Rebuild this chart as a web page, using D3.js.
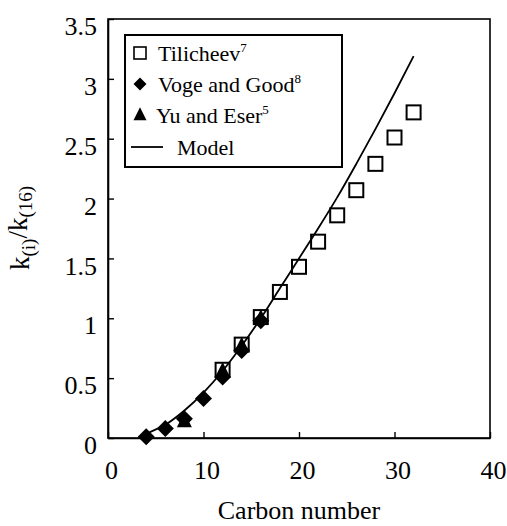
<!DOCTYPE html>
<html>
<head>
<meta charset="utf-8">
<script src="https://cdn.jsdelivr.net/npm/d3@7"></script>
<style>
  body { margin:0; background:#fff; }
  svg { display:block; }
</style>
</head>
<body>
<svg id="chart"></svg>
<script>
// values
const tilCarbon = [12, 14, 16, 18, 20, 22, 24, 26, 28, 30, 32];
const tilRatio  = [0.57, 0.78, 1.01, 1.22, 1.43, 1.64, 1.86, 2.07, 2.29, 2.51, 2.72];
const vogeCarbon = [4, 6, 8, 10, 12, 14, 16];
const vogeRatio  = [0.01, 0.08, 0.16, 0.33, 0.51, 0.73, 0.98];
const yuCarbon = [8, 12, 14, 16];
const yuRatio  = [0.14, 0.56, 0.77, 1.0];
const modelCarbon = [3.5, 4, 6, 8, 10, 12, 14, 16, 18, 20, 22, 24, 26, 28, 30, 32];
const modelRatio  = [0.0, 0.03, 0.11, 0.23, 0.38, 0.56, 0.77, 1.0, 1.25, 1.5, 1.75, 2.01, 2.29, 2.58, 2.88, 3.19];
const xTicks = [0, 10, 20, 30, 40];
const yTicks = [0, 0.5, 1, 1.5, 2, 2.5, 3, 3.5];
const legendNames = ["Tilicheev", "Voge and Good", "Yu and Eser", "Model"];
const legendSup = ["7", "8", "5", ""];

const serif = "'Liberation Serif', 'DejaVu Serif', 'Times New Roman', Times, serif";
const width = 507, height = 526;
const margin = {top:19, right:17, bottom:88, left:108};
const innerW = width - margin.left - margin.right;
const innerH = height - margin.top - margin.bottom;

const svg = d3.select("#chart").attr("width", width).attr("height", height)
  .style("font-family", serif);
const g = svg.append("g").attr("transform", `translate(${margin.left},${margin.top})`);

const x = d3.scaleLinear().domain([0, 40]).range([0, innerW]);
const y = d3.scaleLinear().domain([0, 3.5]).range([innerH, 0]);

// frame
g.append("rect").attr("width", innerW).attr("height", innerH)
  .attr("fill", "none").attr("stroke", "#000").attr("stroke-width", 1.6);

const fmt = d => String(d);
const xAxis = d3.axisBottom(x).tickValues(xTicks).tickFormat(fmt).tickSizeInner(-6).tickSizeOuter(0);
const yAxis = d3.axisLeft(y).tickValues(yTicks).tickFormat(fmt).tickSizeInner(-6).tickSizeOuter(0);

const xg = g.append("g").attr("transform", `translate(0,${innerH})`).call(xAxis);
xg.selectAll("text").style("font-family", serif).attr("font-size", 26).attr("fill", "#000")
  .attr("dy", null).attr("y", 41).attr("dx", 3);
xg.selectAll("line").attr("stroke", "#000").attr("stroke-width", 1.4);
xg.select(".domain").attr("stroke", "#000").attr("stroke-width", 1.6);

const yg = g.append("g").call(yAxis);
yg.selectAll("text").style("font-family", serif).attr("font-size", 26).attr("fill", "#000")
  .attr("x", -11).attr("dy", "0.6em");
yg.selectAll("line").attr("stroke", "#000").attr("stroke-width", 1.4);
yg.select(".domain").attr("stroke", "#000").attr("stroke-width", 1.6);

// markers
const sq = 14;
const diamond = r => `M0,${-r}L${r},0L0,${r}L${-r},0Z`;
const triangle = s => `M0,${-s*0.6}L${s/2},${s*0.4}L${-s/2},${s*0.4}Z`;

g.append("g").selectAll("rect")
  .data(tilCarbon.map((c, i) => [c, tilRatio[i]]))
  .join("rect")
  .attr("x", d => x(d[0]) - sq / 2).attr("y", d => y(d[1]) - sq / 2)
  .attr("width", sq).attr("height", sq)
  .attr("fill", "#fff").attr("stroke", "#000").attr("stroke-width", 2);

g.append("g").selectAll("path")
  .data(vogeCarbon.map((c, i) => [c, vogeRatio[i]]))
  .join("path")
  .attr("d", diamond(8.5))
  .attr("transform", d => `translate(${x(d[0])},${y(d[1])})`)
  .attr("fill", "#000");

g.append("g").selectAll("path")
  .data(yuCarbon.map((c, i) => [c, yuRatio[i]]))
  .join("path")
  .attr("d", triangle(15))
  .attr("transform", d => `translate(${x(d[0])},${y(d[1])})`)
  .attr("fill", "#000");

const line = d3.line().x(d => x(d[0])).y(d => y(d[1])).curve(d3.curveMonotoneX);
g.append("path")
  .datum(modelCarbon.map((c, i) => [c, modelRatio[i]]))
  .attr("d", line)
  .attr("fill", "none").attr("stroke", "#000").attr("stroke-width", 1.8);

// legend
const leg = svg.append("g");
leg.append("rect").attr("x", 125).attr("y", 35).attr("width", 217).attr("height", 132)
  .attr("fill", "#fff").attr("stroke", "#000").attr("stroke-width", 2);
const rowY = [53, 84, 115, 147];
leg.append("rect").attr("x", 134).attr("y", rowY[0] - 6).attr("width", 12).attr("height", 12)
  .attr("fill", "#fff").attr("stroke", "#000").attr("stroke-width", 1.6);
leg.append("path").attr("d", diamond(6.5)).attr("transform", `translate(140,${rowY[1]})`);
leg.append("path").attr("d", triangle(13)).attr("transform", `translate(140,${rowY[2]})`);
leg.append("line").attr("x1", 131).attr("x2", 163).attr("y1", rowY[3]).attr("y2", rowY[3])
  .attr("stroke", "#000").attr("stroke-width", 1.8);
const legX = [158, 158, 156, 177];
legendNames.forEach((name, i) => {
  const t = leg.append("text").attr("x", legX[i]).attr("y", rowY[i]).attr("dy", "0.35em")
    .style("font-family", serif).attr("font-size", 22);
  t.append("tspan").text(name);
  if (legendSup[i]) {
    t.append("tspan").attr("font-size", 13).attr("dy", "-0.7em").text(legendSup[i]);
  }
});

// axis titles
svg.append("text").attr("x", margin.left + innerW / 2).attr("y", 519)
  .style("font-family", serif)
  .attr("text-anchor", "middle").attr("font-size", 26).text("Carbon number");

const yl = svg.append("text").attr("transform", "rotate(-90)")
  .style("font-family", serif)
  .attr("x", -228).attr("y", 29).attr("text-anchor", "middle").attr("font-size", 27);
yl.append("tspan").text("k");
yl.append("tspan").attr("font-size", 19).attr("dy", "0.3em").text("(i)");
yl.append("tspan").attr("dy", "-0.3em").text("/k");
yl.append("tspan").attr("font-size", 19).attr("dy", "0.3em").text("(16)");
</script>
</body>
</html>
